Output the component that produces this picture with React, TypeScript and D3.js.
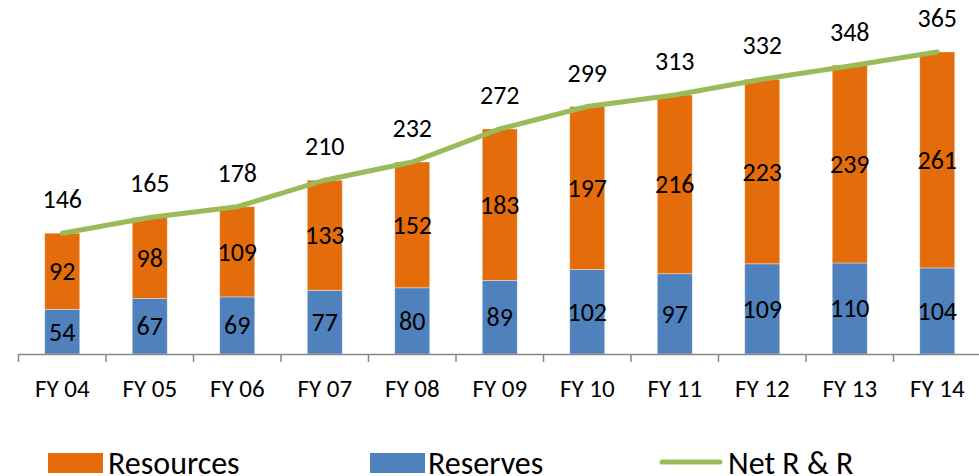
import * as d3 from "d3";
import { useEffect } from "react";

const categories = ["FY 04", "FY 05", "FY 06", "FY 07", "FY 08", "FY 09", "FY 10", "FY 11", "FY 12", "FY 13", "FY 14"];
const reserves = [54, 67, 69, 77, 80, 89, 102, 97, 109, 110, 104];
const resources = [92, 98, 109, 133, 152, 183, 197, 216, 223, 239, 261];
const netRR = [146, 165, 178, 210, 232, 272, 299, 313, 332, 348, 365];

const W = 979;
const H = 476;
const FONT = "Carlito, 'Liberation Sans', Arial, sans-serif";

const ORANGE = "#E46C0A";
const BLUE = "#4F81BD";
const GREEN = "#9BBB59";

export default function App() {
  useEffect(() => {
    document.body.style.margin = "0";
  }, []);

  const x = d3.scaleBand().domain(categories).range([18.5, 981]).padding(0);
  const y = d3.scaleLinear().domain([0, 400]).range([354, 23]);
  const barW = 35;
  const cx = (c) => x(c) + x.bandwidth() / 2;

  const line = d3.line().x((d, i) => cx(categories[i])).y((d) => y(d));

  return (
    <svg width={W} height={H} style={{ display: "block" }} fontFamily={FONT}>
      {/* bars */}
      {categories.map((c, i) => (
        <g key={c}>
          <rect x={cx(c) - barW / 2} y={y(reserves[i])} width={barW} height={y(0) - y(reserves[i])} fill={BLUE} stroke="#fff" strokeOpacity={0.5} strokeWidth={0.75} />
          <rect
            x={cx(c) - barW / 2}
            y={y(reserves[i] + resources[i])}
            width={barW}
            height={y(reserves[i]) - y(reserves[i] + resources[i])}
            fill={ORANGE}
            stroke="#fff"
            strokeOpacity={0.5}
            strokeWidth={0.75}
          />
          <text x={cx(c)} y={(y(0) + y(reserves[i])) / 2 + 9} textAnchor="middle" fontSize={26} fill="#000">
            {reserves[i]}
          </text>
          <text
            x={cx(c)}
            y={(y(reserves[i]) + y(reserves[i] + resources[i])) / 2 + 9}
            textAnchor="middle"
            fontSize={26}
            fill="#000"
          >
            {resources[i]}
          </text>
        </g>
      ))}

      {/* axis */}
      <line x1={18.5} x2={W} y1={y(0) + 0.5} y2={y(0) + 0.5} stroke="#888" strokeWidth={1.5} />
      {categories.map((c) => (
        <line key={c} x1={x(c)} x2={x(c)} y1={y(0)} y2={y(0) + 8} stroke="#888" strokeWidth={1.5} />
      ))}
      {categories.map((c) => (
        <text key={c} x={cx(c)} y={397} textAnchor="middle" fontSize={25} fill="#000">
          {c}
        </text>
      ))}

      {/* net line */}
      <path d={line(netRR)} fill="none" stroke={GREEN} strokeWidth={5} strokeLinecap="round" />
      {netRR.map((v, i) => (
        <text key={i} x={cx(categories[i])} y={y(v) - 25} textAnchor="middle" fontSize={26} fill="#000">
          {v}
        </text>
      ))}

      {/* legend */}
      <rect x={48} y={453} width={55} height={20} fill={ORANGE} />
      <text x={108} y={474} fontSize={32} fill="#000">Resources</text>
      <rect x={370} y={453} width={55} height={20} fill={BLUE} />
      <text x={428} y={474} fontSize={32} fill="#000">Reserves</text>
      <line x1={662} x2={720} y1={462} y2={462} stroke={GREEN} strokeWidth={5} strokeLinecap="round" />
      <text x={728} y={474} fontSize={32} fill="#000">Net R &amp; R</text>
    </svg>
  );
}
